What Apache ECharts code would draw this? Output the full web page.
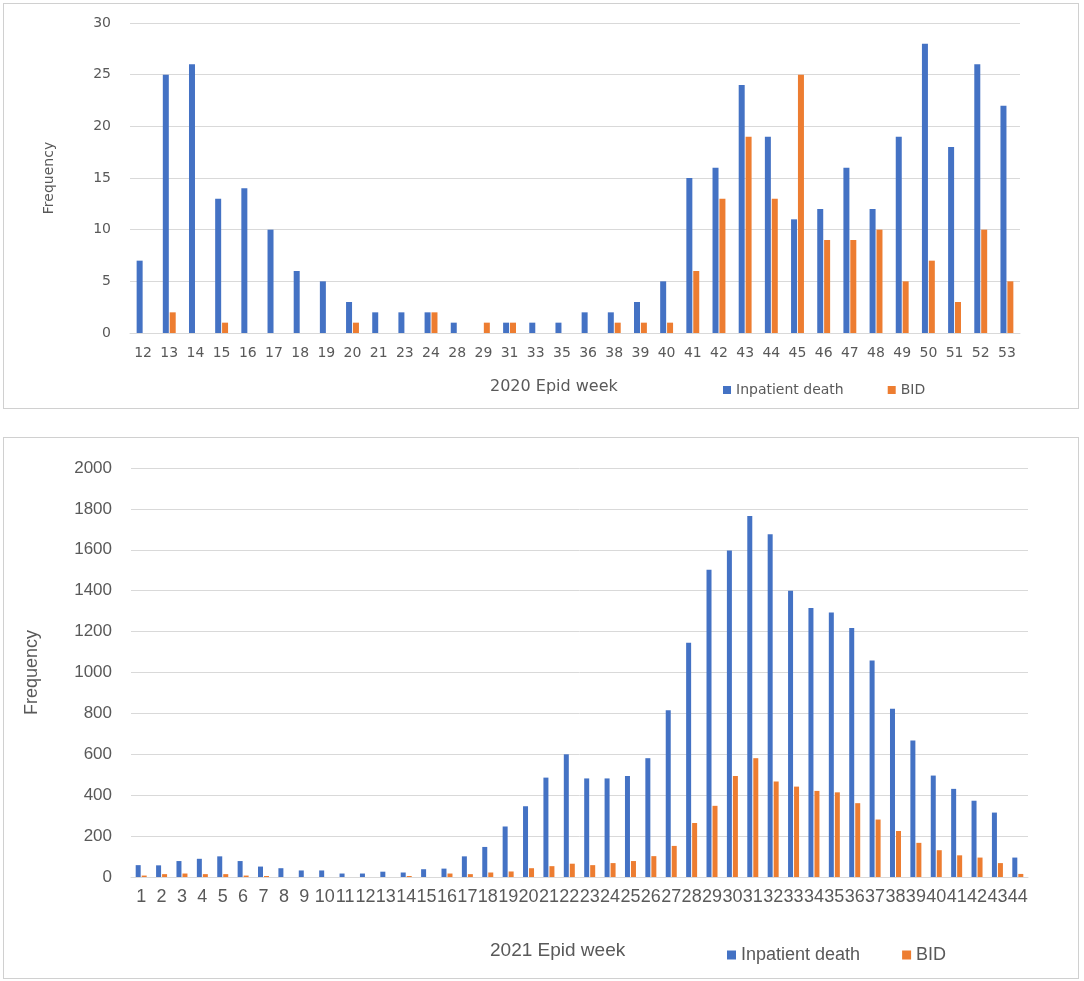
<!DOCTYPE html>
<html>
<head>
<meta charset="utf-8">
<script src="https://cdn.jsdelivr.net/npm/echarts@6/dist/echarts.min.js"></script>
<style>
    body { margin: 0; background: #fff; }
    .box { position: absolute; left: 3px; width: 1076px; border: 1px solid #d0d0d0; box-sizing: border-box; }
    #chart2020 { top: 3px; height: 406px; }
    #chart2021 { top: 437px; height: 542px; }
</style>
</head>
<body>
<div id="chart2020" class="box"></div>
<div id="chart2021" class="box"></div>
<script>
// 2020 epid weeks
const weeks2020 = ['12', '13', '14', '15', '16', '17', '18', '19', '20', '21', '23', '24', '28', '29', '31', '33', '35', '36', '38', '39', '40', '41', '42', '43', '44', '45', '46', '47', '48', '49', '50', '51', '52', '53']
const inpatient2020 = [7, 25, 26, 13, 14, 10, 6, 5, 3, 2, 2, 2, 1, 0, 1, 1, 1, 2, 2, 3, 5, 15, 16, 24, 19, 11, 12, 16, 12, 19, 28, 18, 26, 22]
const bid2020 = [0, 2, 0, 1, 0, 0, 0, 0, 1, 0, 0, 2, 0, 1, 1, 0, 0, 0, 1, 1, 1, 6, 13, 19, 13, 25, 9, 9, 10, 5, 7, 3, 10, 5]

// 2021 epid weeks
const weeks2021 = ['1', '2', '3', '4', '5', '6', '7', '8', '9', '10', '11', '12', '13', '14', '15', '16', '17', '18', '19', '20', '21', '22', '23', '24', '25', '26', '27', '28', '29', '30', '31', '32', '33', '34', '35', '36', '37', '38', '39', '40', '41', '42', '43', '44']
const inpatient2021 = [58, 57, 78, 89, 101, 78, 51, 43, 32, 32, 17, 17, 26, 22, 38, 41, 101, 147, 247, 346, 486, 600, 482, 482, 494, 581, 815, 1146, 1502, 1596, 1765, 1676, 1400, 1315, 1294, 1217, 1059, 823, 667, 496, 431, 373, 315, 95]
const bid2021 = [7, 14, 17, 14, 14, 7, 5, 0, 0, 0, 0, 0, 0, 5, 0, 17, 14, 22, 27, 43, 53, 65, 58, 68, 78, 102, 152, 264, 348, 494, 581, 467, 442, 421, 414, 361, 281, 225, 167, 131, 106, 95, 68, 15]

const BLUE = '#4472C4'
const ORANGE = '#ED7D31'
const TEXT = '#595959'
const GRID = '#d9d9d9'

// 上图 2020
const newChart2020 = (dom) => {
    const myChart = echarts.init(dom)
    const font = 'DejaVu Sans'
    const option = {
        animation: false,
        title: {
            text: '2020 Epid week',
            left: 486,
            top: 375,
            padding: 0,
            textStyle: { fontFamily: font, fontSize: 16, fontWeight: 'normal', color: TEXT }
        },
        legend: {
            left: 714,
            top: 374,
            itemWidth: 8,
            itemHeight: 8,
            itemGap: 44,
            icon: 'rect',
            textStyle: { fontFamily: font, fontSize: 14, color: TEXT },
            data: ['Inpatient death', 'BID']
        },
        grid: { left: 126, right: 58, top: 19, bottom: 75 },
        xAxis: {
            type: 'category',
            data: weeks2020,
            axisTick: { show: false },
            axisLine: { lineStyle: { color: GRID } },
            axisLabel: { interval: 0, margin: 13, fontFamily: font, fontSize: 14, color: TEXT }
        },
        yAxis: {
            type: 'value',
            min: 0,
            max: 30,
            interval: 5,
            name: 'Frequency',
            nameLocation: 'middle',
            nameGap: 74,
            nameTextStyle: { fontFamily: font, fontSize: 14, color: TEXT },
            axisLabel: { margin: 19, fontFamily: font, fontSize: 14, color: TEXT },
            splitLine: { lineStyle: { color: GRID } }
        },
        series: [
            { name: 'Inpatient death', type: 'bar', data: inpatient2020, barWidth: 6, barGap: '15%', itemStyle: { color: BLUE } },
            { name: 'BID', type: 'bar', data: bid2020, barWidth: 6, itemStyle: { color: ORANGE } }
        ]
    }
    myChart.setOption(option)
    return myChart
}

// 下图 2021
const newChart2021 = (dom) => {
    const myChart = echarts.init(dom)
    const font = 'Liberation Sans'
    const option = {
        animation: false,
        title: {
            text: '2021 Epid week',
            left: 486,
            top: 503,
            padding: 0,
            textStyle: { fontFamily: font, fontSize: 19, fontWeight: 'normal', color: TEXT }
        },
        legend: {
            left: 718,
            top: 503,
            itemWidth: 9,
            itemHeight: 9,
            itemGap: 42,
            icon: 'rect',
            textStyle: { fontFamily: font, fontSize: 18, color: TEXT },
            data: ['Inpatient death', 'BID']
        },
        grid: { left: 127, right: 50, top: 30, bottom: 101 },
        xAxis: {
            type: 'category',
            data: weeks2021,
            axisTick: { show: false },
            axisLine: { lineStyle: { color: GRID } },
            axisLabel: { interval: 0, margin: 11, fontFamily: font, fontSize: 18, color: TEXT }
        },
        yAxis: {
            type: 'value',
            min: 0,
            max: 2000,
            interval: 200,
            name: 'Frequency',
            nameLocation: 'middle',
            nameGap: 90,
            nameTextStyle: { fontFamily: font, fontSize: 18, color: TEXT },
            axisLabel: { margin: 19, fontFamily: font, fontSize: 17, color: TEXT, formatter: (v) => String(v) },
            splitLine: { lineStyle: { color: GRID } }
        },
        series: [
            { name: 'Inpatient death', type: 'bar', data: inpatient2021, barWidth: 5, barGap: '20%', itemStyle: { color: BLUE } },
            { name: 'BID', type: 'bar', data: bid2021, barWidth: 5, itemStyle: { color: ORANGE } }
        ]
    }
    myChart.setOption(option)
    return myChart
}

newChart2020(document.getElementById('chart2020'))
newChart2021(document.getElementById('chart2021'))
</script>
</body>
</html>
